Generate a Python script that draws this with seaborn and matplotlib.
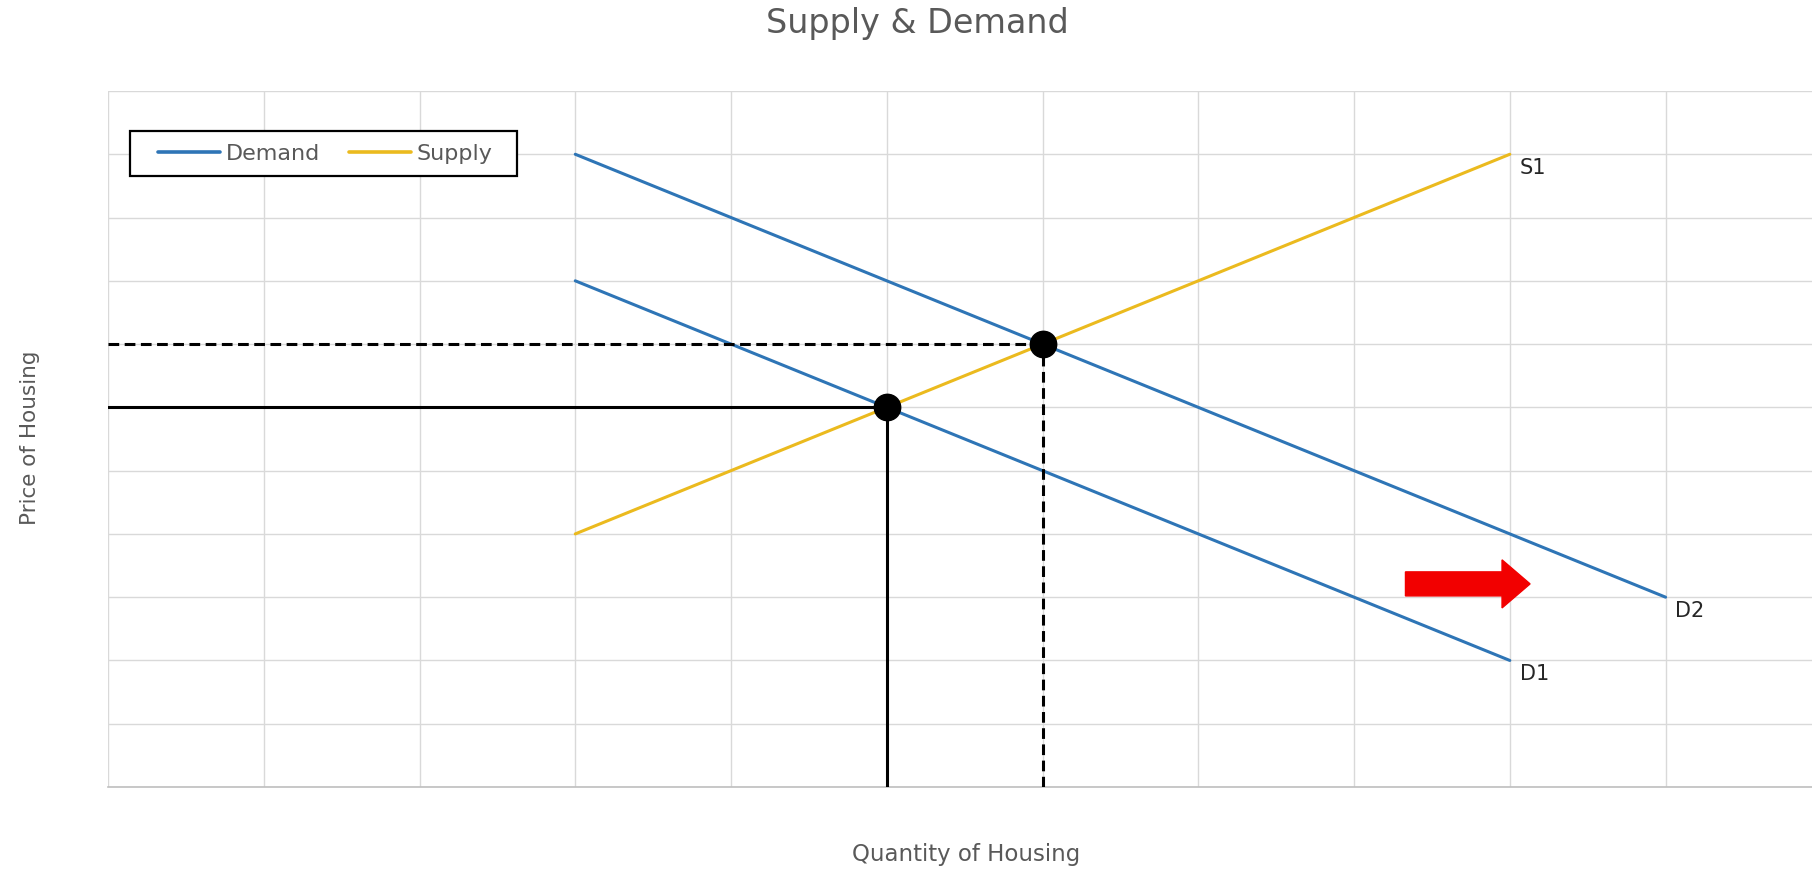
import pandas as pd
import matplotlib
matplotlib.use('Agg')
import matplotlib.pyplot as plt
from matplotlib.patches import Rectangle
import seaborn as sns


# curvas do grafico (oferta e demanda)
curve_names = ['D1', 'D2', 'S1']
curve_kind = ['Demand', 'Demand', 'Supply']
curve_q = [[3, 9], [3, 10], [3, 9]]
curve_p = [[8, 2], [10, 3], [4, 10]]

# pontos de equilibrio: antes (solido) e depois (tracejado)
eq_q = [5, 6]
eq_p = [6, 7]

# seta de deslocamento da demanda
shift_q = [8.33, 9.13]
shift_p = 3.21

x_max = 10.94
y_max = 11

rows = []
for name, kind, qs, ps in zip(curve_names, curve_kind, curve_q, curve_p):
    for q, p in zip(qs, ps):
        rows.append({'curve': name, 'kind': kind, 'q': q, 'p': p})
df = pd.DataFrame(rows)

sns.set_style('whitegrid')
plt.rcParams['font.family'] = ['DejaVu Sans']

fig = plt.figure(figsize=(18.12, 8.69), dpi=100)
ax = fig.add_axes([108 / 1812, 1 - 787 / 869, 1 - 108 / 1812, (787 - 91) / 869])

sns.lineplot(data=df, x='q', y='p', hue='kind', units='curve', estimator=None,
             palette={'Demand': '#2E75B6', 'Supply': '#EBBA1E'}, linewidth=2.2, ax=ax)

# linhas de referencia ate os eixos
styles = ['-', (0, (3.5, 1.8))]
for q, p, ls in zip(eq_q, eq_p, styles):
    ax.plot([0, q], [p, p], color='black', linewidth=2.2, linestyle=ls, zorder=4)
    ax.plot([q, q], [0, p], color='black', linewidth=2.2, linestyle=ls, zorder=4)
ax.plot(eq_q, eq_p, 'o', color='black', markersize=19, zorder=5, linestyle='none')

# rotulos das curvas
for name, qs, ps in zip(curve_names, curve_q, curve_p):
    ax.annotate(name, (qs[-1], ps[-1]), xytext=(7, -10), textcoords='offset points',
                ha='left', va='center', fontsize=15, color='#262626')

ax.arrow(shift_q[0], shift_p, shift_q[1] - shift_q[0], 0, width=0.38, head_width=0.76,
         head_length=0.18, length_includes_head=True, color='#F20000', zorder=6)

ax.set_xlim(0, x_max)
ax.set_ylim(0, y_max)
ax.set_xticks(range(0, 11))
ax.set_yticks(range(0, 12))
ax.set_xticklabels([])
ax.set_yticklabels([])
ax.tick_params(length=0)
ax.grid(True, color='#D9D9D9', linewidth=1.0)
for s in ['left', 'right', 'top']:
    ax.spines[s].set_visible(False)
ax.spines['bottom'].set_color('#BFBFBF')
ax.spines['bottom'].set_linewidth(1.2)
ax.set_xlabel('')
ax.set_ylabel('')

fig.text(917 / 1812, 1 - 24 / 869, 'Supply & Demand', ha='center', va='center',
         fontsize=24, color='#595959')
fig.text(966 / 1812, 1 - 855 / 869, 'Quantity of Housing', ha='center', va='center',
         fontsize=16.5, color='#595959')
fig.text(30 / 1812, 1 - 438 / 869, 'Price of Housing', ha='center', va='center',
         fontsize=15.5, color='#595959', rotation=90)

# caixa da legenda desenhada a parte
fig.patches.append(Rectangle((130 / 1812, 1 - 176 / 869), 387 / 1812, 45 / 869,
                             transform=fig.transFigure, facecolor='white',
                             edgecolor='black', linewidth=1.6, zorder=10))
leg = ax.legend(loc='center left', bbox_to_anchor=(158 / 1812, 1 - 153.5 / 869),
                bbox_transform=fig.transFigure, ncol=2, frameon=False,
                fontsize=16, handlelength=2.8, columnspacing=1.3, handletextpad=0.25,
                borderaxespad=0, borderpad=0)
leg.set_zorder(11)
for line in leg.get_lines():
    line.set_linewidth(2.6)
for t in leg.get_texts():
    t.set_color('#595959')
fig.legends.append(leg)
ax.get_legend().remove()

fig.savefig('out.png', dpi=100)
